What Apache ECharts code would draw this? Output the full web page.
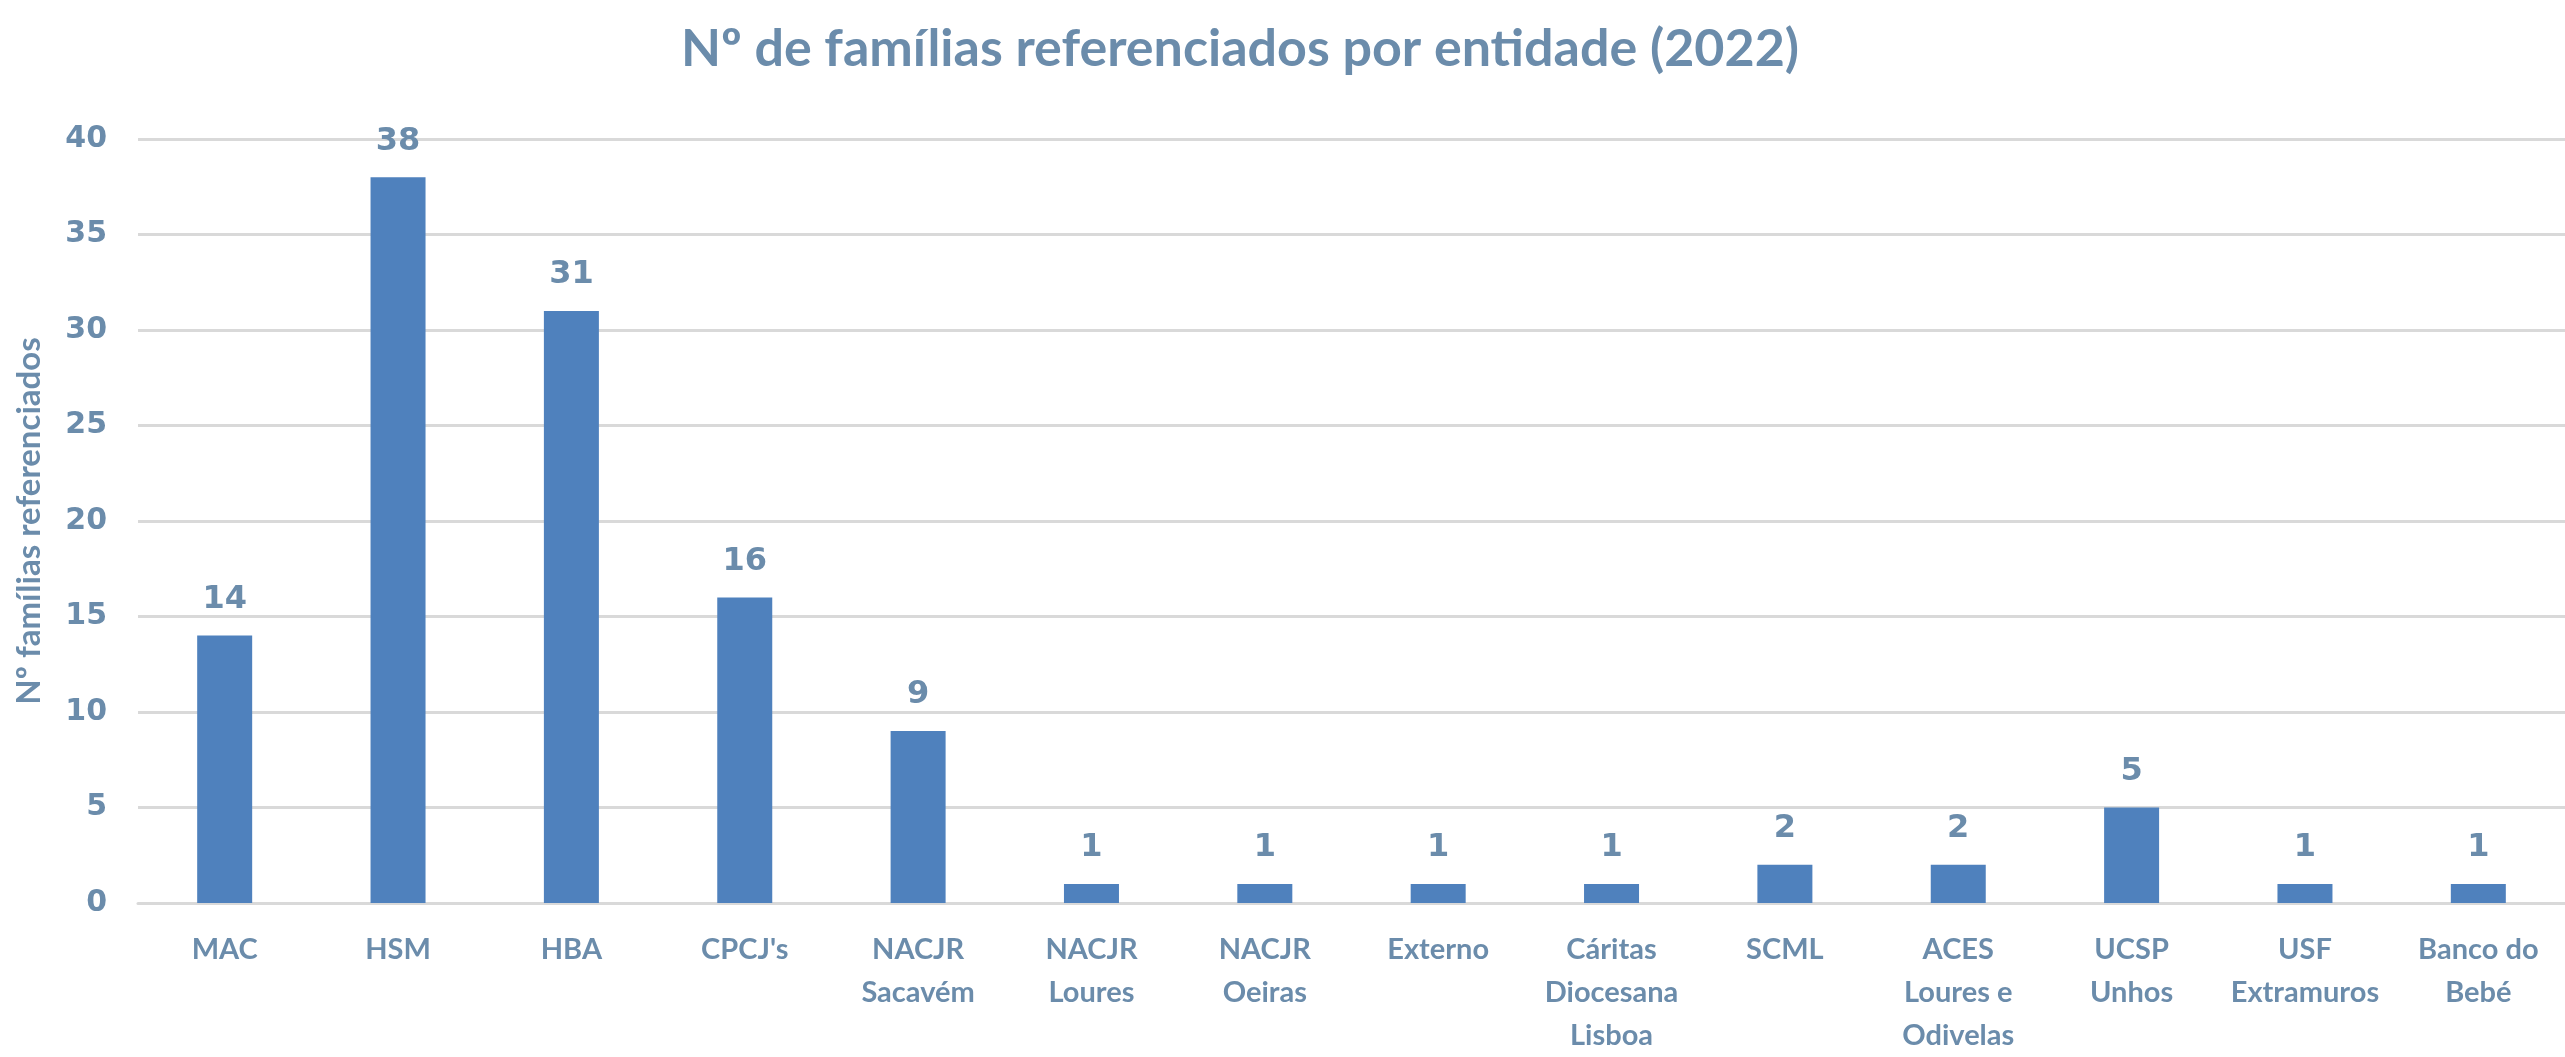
<!DOCTYPE html>
<html>
<head>
<meta charset="utf-8">
<script src="https://cdn.jsdelivr.net/npm/echarts@6/dist/echarts.min.js"></script>
<style>
  html, body { margin: 0; padding: 0; background: #fff; }
  #chart { width: 2565px; height: 1057px; }
</style>
</head>
<body>
<div id="chart"></div>
<script>
var chartTitle = 'Nº de famílias referenciados por entidade (2022)';
var yAxisName = 'Nº famílias referenciados';
var categories = ['MAC', 'HSM', 'HBA', "CPCJ's", 'NACJR\nSacavém', 'NACJR\nLoures', 'NACJR\nOeiras',
    'Externo', 'Cáritas\nDiocesana\nLisboa', 'SCML', 'ACES\nLoures e\nOdivelas', 'UCSP\nUnhos',
    'USF\nExtramuros', 'Banco do\nBebé'];
var familias = [14, 38, 31, 16, 9, 1, 1, 1, 1, 2, 2, 5, 1, 1];

var textColor = '#6b8cab';
var chart = echarts.init(document.getElementById('chart'));

var option = {
    backgroundColor: '#ffffff',
    animation: false,
    title: {
        text: chartTitle,
        left: 1235,
        top: 18,
        textAlign: 'center',
        textStyle: {
            color: textColor,
            fontFamily: 'Lato',
            fontWeight: 'bold',
            fontSize: 52
        }
    },
    grid: {
        left: 138,
        right: -6,
        top: 139,
        bottom: 147,
        containLabel: false
    },
    xAxis: {
        type: 'category',
        data: categories,
        axisTick: { show: false },
        axisLine: { lineStyle: { color: '#d9d9d9', width: 3 } },
        axisLabel: {
            color: textColor,
            fontFamily: 'Lato',
            fontWeight: 'bold',
            fontSize: 29,
            lineHeight: 43,
            margin: 25,
            interval: 0
        }
    },
    yAxis: {
        type: 'value',
        min: 0,
        max: 40,
        interval: 5,
        name: yAxisName,
        nameLocation: 'middle',
        nameGap: 92,
        nameTextStyle: {
            color: textColor,
            fontFamily: 'Lato',
            fontWeight: 'bold',
            fontSize: 33
        },
        axisLine: { show: false },
        axisTick: { show: false },
        splitLine: { lineStyle: { color: '#d9d9d9', width: 3 } },
        axisLabel: {
            color: textColor,
            fontFamily: 'DejaVu Sans',
            fontWeight: 'bold',
            fontSize: 30,
            margin: 31
        }
    },
    series: [{
        type: 'bar',
        data: familias,
        barWidth: 55,
        itemStyle: { color: '#4f81bd' },
        label: {
            show: true,
            position: 'top',
            distance: 20,
            color: textColor,
            fontFamily: 'DejaVu Sans',
            fontWeight: 'bold',
            fontSize: 32
        }
    }]
};

chart.setOption(option);
</script>
</body>
</html>
